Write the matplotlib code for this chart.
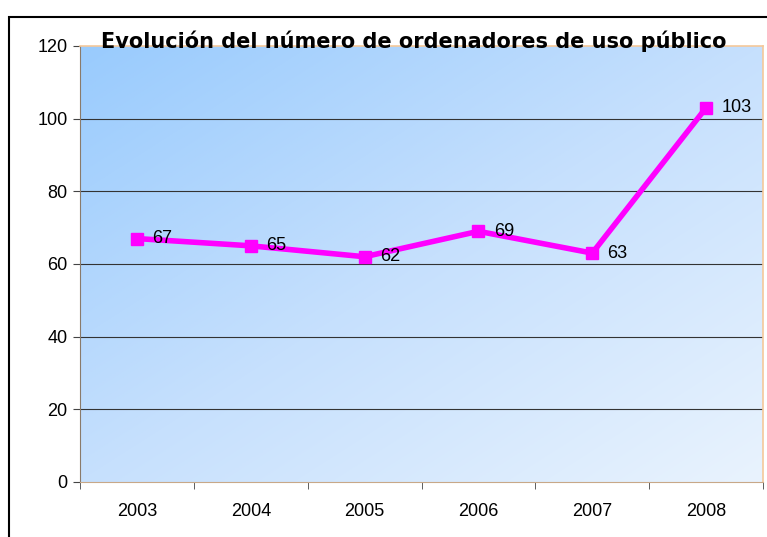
import numpy as np
import matplotlib.pyplot as plt
from matplotlib.colors import LinearSegmentedColormap
from matplotlib.patches import Rectangle

years = ["2003", "2004", "2005", "2006", "2007", "2008"]
values = [67, 65, 62, 69, 63, 103]
y_ticks = [0, 20, 40, 60, 80, 100, 120]
title = "Evolución del número de ordenadores de uso público"

fig = plt.figure(figsize=(7.67, 5.37), dpi=100)
ax = fig.add_axes([80 / 767, 55 / 537, 683 / 767, 436 / 537])

# diagonal gradient background, darker top-left -> lighter bottom-right
cmap = LinearSegmentedColormap.from_list("bg", ["#99cbfd", "#c6e0fd", "#e9f3fe"])
gx, gy = np.meshgrid(np.linspace(0, 1, 200), np.linspace(0, 1, 200))
grad = (gx + (1 - gy)) / 2
ax.imshow(grad, cmap=cmap, extent=[0, 1, 0, 1], origin="lower", transform=ax.transAxes,
          aspect="auto", zorder=0, interpolation="bilinear")

x = np.arange(len(years))
ax.set_xlim(-0.5, len(years) - 0.5)
ax.set_ylim(0, 120)

ax.set_yticks(y_ticks)
for v in y_ticks[1:-1]:
    ax.axhline(v, color="#333333", lw=0.8, zorder=1)

ax.plot(x, values, color="#ff00ff", lw=4, marker="s", ms=8, zorder=3,
        solid_joinstyle="round")
for xi, v in zip(x, values):
    ax.annotate(str(v), (xi, v), xytext=(11, 0), textcoords="offset points",
                va="center", ha="left", fontsize=13, family="Liberation Sans", zorder=4)

ax.set_xticks(x)
ax.set_xticklabels(years)
ax.set_xticks(np.arange(-0.5, len(years)), minor=True)
ax.tick_params(axis="x", which="major", length=0, pad=15)
ax.tick_params(axis="x", which="minor", length=5, direction="out", color="#444444")
ax.tick_params(axis="y", length=5, direction="out", color="#444444", pad=4)
for lab in ax.get_xticklabels() + ax.get_yticklabels():
    lab.set_family("Liberation Sans")
    lab.set_fontsize(13)

for s in ["top", "right"]:
    ax.spines[s].set_color("#f5c89a")
    ax.spines[s].set_linewidth(1.2)
ax.spines["left"].set_color("#8a7a6a")
ax.spines["bottom"].set_color("#c8a888")

ax.text(0.489, 1.01, title, transform=ax.transAxes, ha="center", va="center",
        fontsize=15, fontweight="bold", zorder=5)

# outer chart frame (only left and top visible)
fig.patches.append(Rectangle((9 / 767, -0.1), 2, 1.1 - 17 / 537, transform=fig.transFigure,
                             fill=False, edgecolor="black", lw=1.5))

fig.savefig("out.png", dpi=100)
